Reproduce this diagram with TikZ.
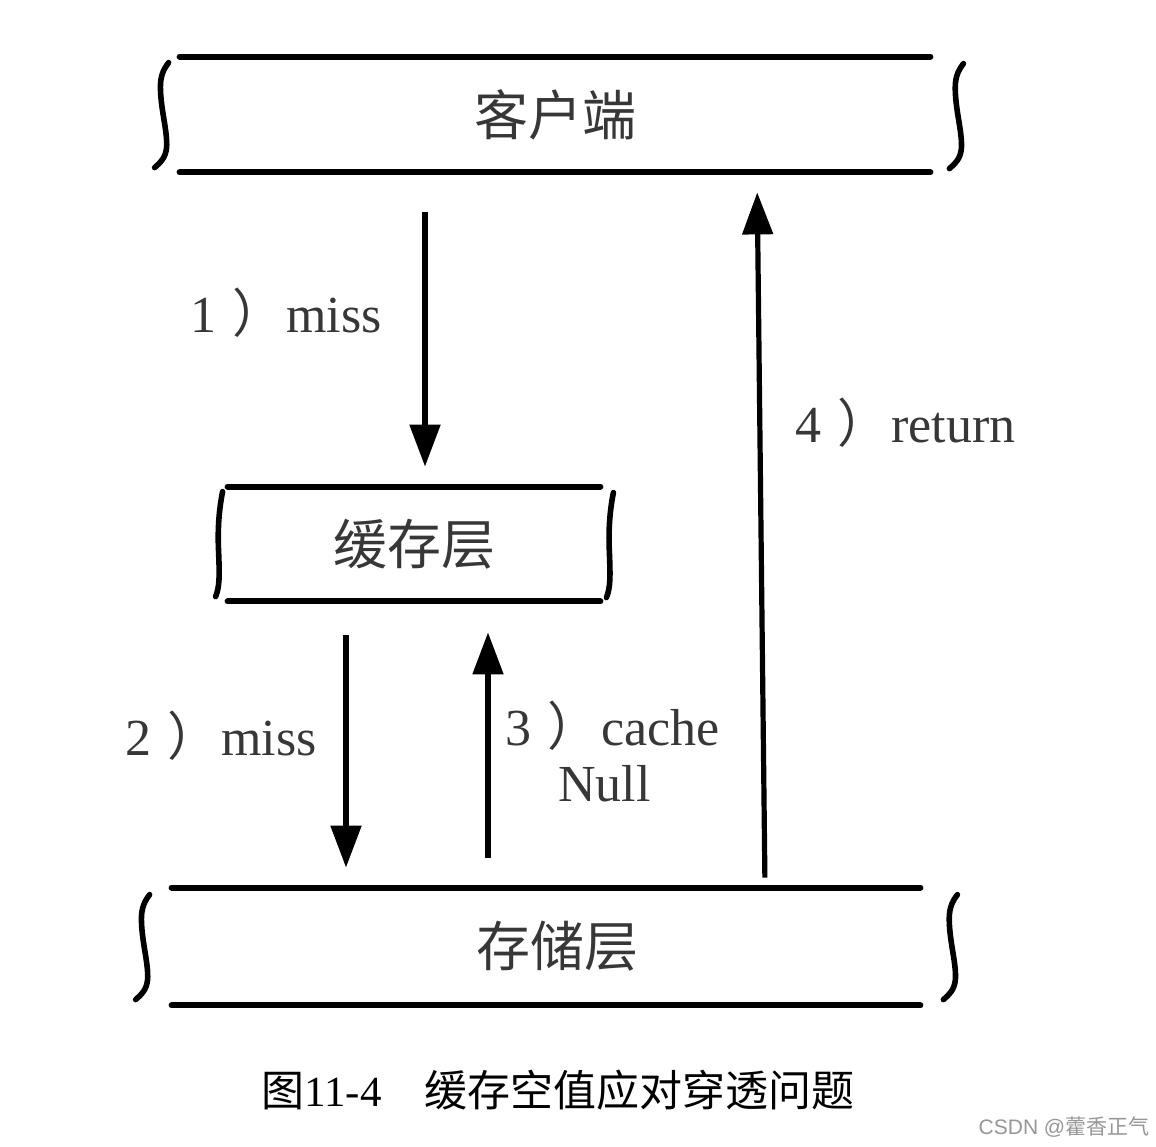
\documentclass[tikz,border=0pt]{standalone}
\usepackage{fontspec}
\setmainfont{Liberation Serif}
\newfontfamily\cjk{Noto Sans CJK SC}
\newfontfamily\wmfont{Liberation Sans}
\usetikzlibrary{arrows.meta}
\definecolor{inkgray}{RGB}{55,55,55}
\definecolor{markgray}{RGB}{150,150,150}

\newcommand{\steplabel}[2]{#1\hspace{8pt}{\cjk ）}\hspace{1pt}#2}

\begin{document}
\begin{tikzpicture}[x=0.5pt, y=-0.5pt,
  layer/.style={inner sep=0pt, font=\cjk\fontsize{27}{30}\selectfont, text=inkgray},
  edge/.style={line width=3pt, line cap=round},
  flow/.style={line width=2.6pt, -{Triangle[length=21pt, width=15pt]}},
  lab/.style={anchor=west, inner sep=0pt, font=\fontsize{26}{30}\selectfont, text=inkgray},
  brace/.pic={\draw[line width=2.8pt, line cap=round]
    (0,0) .. controls (-6,8) and (-9,15) .. (-8,30)
          .. controls (-7,50) and (-1,70) .. (-2,85)
          .. controls (-3,95) and (-8,100) .. (-14,105);},
  bar/.pic={\draw[line width=2.8pt, line cap=round]
    (0,0) .. controls (-4,20) and (-5,40) .. (-4,60)
          .. controls (-3,85) and (-3,95) .. (-7,105);},
  ]

\useasboundingbox (0,0) rectangle (1156,1146);

% ======================================================================
% Layers
% ======================================================================
\node[layer, minimum width=375pt, minimum height=57.5pt]
  (client) at (555,114.5) {客户端};
\node[layer, minimum width=186pt, minimum height=57pt]
  (cache) at (414,544) {缓存层};
\node[layer, minimum width=374pt, minimum height=58.5pt]
  (store) at (546,946.5) {\hspace*{11pt}存储层};

% top and bottom rules of each layer
\foreach \n in {client, cache, store} {
  \draw[edge] (\n.north west) -- (\n.north east);
  \draw[edge] (\n.south west) -- (\n.south east);
}

% hand-drawn side brackets
\pic at ([shift={(-11,6)}]client.north west) {brace};
\pic at ([shift={(33,7)}]client.north east) {brace};
\pic at ([shift={(-5,5)}]cache.north west) {bar};
\pic at ([shift={(13,6)}]cache.north east) {bar};
\pic at ([shift={(-22,7)}]store.north west) {brace};
\pic at ([shift={(37,7)}]store.north east) {brace};

% ======================================================================
% Request flow
% ======================================================================
\coordinate (x1) at (425,0);
\coordinate (x2) at (346,0);
\coordinate (x3) at (488,0);
\coordinate (x4a) at (765,0);
\coordinate (x4b) at (757,0);

\draw[flow, shorten <=20pt, shorten >=10pt] (client.south -| x1) -- (cache.north -| x1);
\draw[flow, shorten <=17pt, shorten >=10pt] (cache.south -| x2) -- (store.north -| x2);
\draw[flow, shorten <=15pt, shorten >=15.5pt] (store.north -| x3) -- (cache.south -| x3);
\draw[flow, shorten <=5pt, shorten >=10pt] (store.north -| x4a) -- (client.south -| x4b);

\node[lab] (lab1) at (190,313) {\steplabel{1}{miss}};
\node[lab] (lab2) at (125,736) {\steplabel{2}{miss}};
\node[lab] (lab3) at (505,726) {\steplabel{3}{cache}};
\node[lab] (lab3b) at (558,784) {Null};
\node[lab] (lab4) at (795,423) {\steplabel{4}{return}};

% ======================================================================
% Caption
% ======================================================================
\node[font=\fontsize{21.5}{24}\selectfont, inner sep=0pt]
  (caption) at (558,1090) {{\cjk 图}11-4{\cjk 　缓存空值应对穿透问题}};
\node[font=\wmfont\fontsize{10.5}{12}\selectfont, text=markgray, inner sep=0pt]
  (mark) at (1064,1127) {CSDN @{\cjk 藿香正气}};

\end{tikzpicture}
\end{document}
